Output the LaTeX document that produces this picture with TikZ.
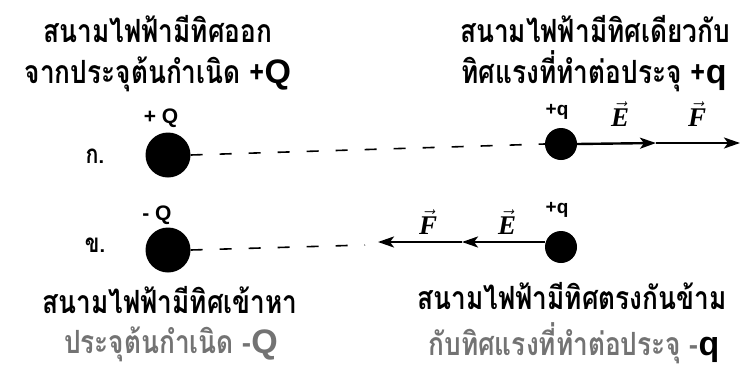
\documentclass[tikz,border=0pt]{standalone}
\usepackage{fontspec}
\newfontfamily\thai[Script=Thai,FakeStretch=0.82]{Loma}
\newfontfamily\lsans{Liberation Sans}
\newfontfamily\lserif{Liberation Serif}
\usetikzlibrary{arrows.meta}
\tikzset{
  thaitxt/.style={font=\thai\bfseries\fontsize{32}{32}\selectfont, anchor=base, inner sep=0pt},
  graytxt/.style={thaitxt, text=black!55},
  chlabel/.style={font=\lsans\bfseries\fontsize{21}{21}\selectfont, inner sep=0pt},
  qlabel/.style={font=\lsans\bfseries\fontsize{19}{19}\selectfont, inner sep=0pt},
  veclabel/.style={font=\fontsize{27}{27}\selectfont, inner sep=0pt},
  bigcharge/.style={circle, fill=black, minimum size=45pt, inner sep=0pt},
  smallcharge/.style={circle, fill=black, minimum size=32pt, inner sep=0pt},
  fieldline/.style={line width=2.4pt, -{Stealth[length=16pt,width=11pt,inset=4pt]}},
  dashline/.style={line width=1.6pt, dash pattern=on 12pt off 17pt},
  rowlabel/.style={font=\thai\bfseries\fontsize{26}{26}\selectfont, inner sep=0pt}
}
\newcommand{\bigQ}[1]{{\lsans\bfseries\fontsize{34}{34}\selectfont #1}}
\newcommand{\vecsym}[1]{$\vec{\mbox{\lserif\bfseries\itshape #1}}$}
\begin{document}
\begin{tikzpicture}[x=1pt,y=-1pt]
\useasboundingbox (0,0) rectangle (742,378);
% top texts
\node[thaitxt] (tl1) at (158,42) {สนามไฟฟ้ามีทิศออก};
\node[thaitxt] (tl2) at (158,83) {จากประจุต้นกำเนิด +\bigQ{Q}};
\node[thaitxt] (tr1) at (595,42) {สนามไฟฟ้ามีทิศเดียวกับ};
\node[thaitxt] (tr2) at (594,83) {ทิศแรงที่ทำต่อประจุ +\bigQ{q}};
% row 1
\node[rowlabel] (ka) at (95,156) {ก.};
\node[bigcharge] (Q1) at (168,155) {};
\node[chlabel] (Q1l) at (161,118) {+ Q};
\node[smallcharge] (q1) at (561,144) {};
\node[qlabel] (q1l) at (557,112) {+q};
\coordinate (e1) at (656,143);
\coordinate (f1) at (740,143);
\draw[dashline] (Q1.east) -- (q1.west);
\draw[fieldline] (q1.east) -- (e1);
\draw[fieldline] (e1) -- (f1);
\node[veclabel] (E1) at (620,114) {\vecsym{E}};
\node[veclabel] (F1) at (697,114) {\vecsym{F}};
% row 2
\node[rowlabel] (kho) at (95,245) {ข.};
\node[bigcharge] (Q2) at (168,250) {};
\node[chlabel] (Q2l) at (157,215) {- Q};
\node[smallcharge] (q2) at (561,247) {};
\node[qlabel] (q2l) at (557,210) {+q};
\coordinate (d2) at (365,245);
\coordinate (e2) at (462,242);
\coordinate (f2) at (378,242);
\draw[dashline] (Q2.east) -- (d2);
\draw[fieldline] (q2.west |- e2) -- (e2);
\draw[fieldline] (e2) -- (f2);
\node[veclabel] (F2) at (428,222) {\vecsym{F}};
\node[veclabel] (E2) at (507,222) {\vecsym{E}};
% bottom texts
\node[thaitxt] (bl1) at (170,313) {สนามไฟฟ้ามีทิศเข้าหา};
\node[graytxt] (bl2) at (171,353) {ประจุต้นกำเนิด -\bigQ{Q}};
\node[thaitxt] (br1) at (572,309) {สนามไฟฟ้ามีทิศตรงกันข้าม};
\node[graytxt] (br2) at (574,355) {กับทิศแรงที่ทำต่อประจุ -{\color{black}\bigQ{q}}};
\end{tikzpicture}
\end{document}
